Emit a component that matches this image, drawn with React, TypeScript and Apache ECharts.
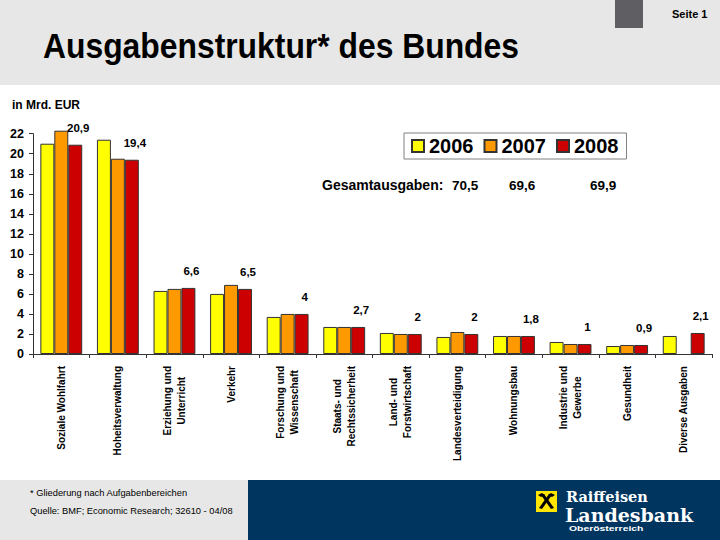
import React, { useEffect, useRef } from "react";
import * as echarts from "echarts";

const categories = [
  "Soziale Wohlfahrt",
  "Hoheitsverwaltung",
  "Erziehung und\nUnterricht",
  "Verkehr",
  "Forschung und\nWissenschaft",
  "Staats- und\nRechtssicherheit",
  "Land- und\nForstwirtschaft",
  "Landesverteidigung",
  "Wohnungsbau",
  "Industrie und\nGewerbe",
  "Gesundheit",
  "Diverse Ausgaben",
];
const years = ["2006", "2007", "2008"];
const values2006 = [21.0, 21.4, 6.3, 6.0, 3.7, 2.7, 2.1, 1.7, 1.8, 1.2, 0.8, 1.8];
const values2007 = [22.3, 19.5, 6.5, 6.9, 4.0, 2.7, 2.0, 2.2, 1.8, 1.0, 0.9, null];
const values2008 = [20.9, 19.4, 6.6, 6.5, 4.0, 2.7, 2.0, 2.0, 1.8, 1.0, 0.9, 2.1];
const totals = [70.5, 69.6, 69.9];
const yMin = 0;
const yMax = 22;
const yInterval = 2;

const FONT = '"Liberation Sans", Arial, sans-serif';
const SERIF = '"DejaVu Serif", "Liberation Serif", serif';
const fmt = (v: number) => String(v).replace(".", ",");

export default function App() {
  const ref = useRef<HTMLDivElement>(null);
  useEffect(() => {
    document.body.style.margin = "0";
    const chart = echarts.init(ref.current!, undefined, { renderer: "svg" });
    const colors = ["#FFFF00", "#FF9900", "#CC0000"];
    const data = [values2006, values2007, values2008];
    const totalX = [452, 509, 590];
    const option: any = {
      animation: false,
      backgroundColor: "#ffffff",
      textStyle: { fontFamily: FONT },
      grid: { left: 33, right: 8, top: 133.7, bottom: 186, containLabel: false },
      legend: {
        data: years,
        left: 404,
        top: 133,
        orient: "horizontal",
        icon: "rect",
        itemWidth: 12,
        itemHeight: 12,
        itemGap: 10,
        padding: [3, 8, 3, 7],
        borderColor: "#808080",
        borderWidth: 1,
        backgroundColor: "#ffffff",
        textStyle: { fontSize: 20, fontWeight: "bold", color: "#000", fontFamily: FONT },
      },
      xAxis: {
        type: "category",
        data: categories,
        axisLine: { lineStyle: { color: "#333", width: 1 } },
        axisTick: { show: true, length: 4, lineStyle: { color: "#333" } },
        axisLabel: {
          rotate: 90,
          margin: 12,
          interval: 0,
          color: "#000",
          fontSize: 10,
          fontWeight: "bold",
          fontFamily: FONT,
          lineHeight: 14,
          formatter: (v: string) =>
            v
              .split("\n")
              .map((l) => `{c|${l}}`)
              .join("\n"),
          rich: {
            c: {
              align: "center",
              fontSize: 10,
              fontWeight: "bold",
              fontFamily: FONT,
              lineHeight: 14,
              color: "#000",
            },
          },
        },
      },
      yAxis: {
        type: "value",
        min: yMin,
        max: yMax,
        interval: yInterval,
        splitLine: { show: false },
        axisLine: { show: true, lineStyle: { color: "#333", width: 1 } },
        axisTick: { show: true, length: 4, lineStyle: { color: "#333" } },
        axisLabel: {
          margin: 9,
          color: "#000",
          fontSize: 12.5,
          fontWeight: "bold",
          fontFamily: FONT,
        },
      },
      series: years.map((y, i) => ({
        name: y,
        type: "bar",
        data: data[i],
        barGap: "0%",
        barCategoryGap: "26%",
        clip: false,
        itemStyle: { color: colors[i], borderColor: "#333", borderWidth: 1 },
        label:
          i === 2
            ? {
                show: true,
                position: "top",
                distance: 11,
                offset: [3, 0],
                color: "#000",
                fontSize: 11.5,
                fontWeight: "bold",
                fontFamily: FONT,
                formatter: (p: any) => fmt(p.value),
              }
            : { show: false },
      })),
      graphic: [
        { type: "rect", shape: { x: 0, y: 0, width: 720, height: 85 }, style: { fill: "#e7e7e7" }, z: -10 },
        { type: "rect", shape: { x: 615, y: 0, width: 28, height: 28 }, style: { fill: "#5f5f63" }, z: -9 },
        {
          type: "text",
          x: 672,
          y: 14,
          style: { text: "Seite 1", font: `bold 11px ${FONT}`, fill: "#000", align: "left", verticalAlign: "middle" },
        },
        {
          type: "text",
          x: 43,
          y: 46,
          scaleX: 0.91,
          style: {
            text: "Ausgabenstruktur* des Bundes",
            font: `bold 35px ${FONT}`,
            fill: "#000",
            align: "left",
            verticalAlign: "middle",
          },
        },
        {
          type: "text",
          x: 12,
          y: 105,
          style: { text: "in Mrd. EUR", font: `bold 12px ${FONT}`, fill: "#000", align: "left", verticalAlign: "middle" },
        },
        {
          type: "text",
          x: 322,
          y: 185,
          style: { text: "Gesamtausgaben:", font: `bold 14px ${FONT}`, fill: "#000", align: "left", verticalAlign: "middle" },
        },
        ...totals.map((t, i) => ({
          type: "text",
          x: totalX[i],
          y: 185,
          style: { text: fmt(t), font: `bold 13.5px ${FONT}`, fill: "#000", align: "left", verticalAlign: "middle" },
        })),
        { type: "rect", shape: { x: 0, y: 480, width: 248, height: 60 }, style: { fill: "#e7e7e7" }, z: -10 },
        { type: "rect", shape: { x: 248, y: 480, width: 472, height: 60 }, style: { fill: "#00355f" }, z: -10 },
        {
          type: "text",
          x: 30,
          y: 493,
          style: {
            text: "* Gliederung nach Aufgabenbereichen",
            font: `9.3px ${FONT}`,
            fill: "#000",
            align: "left",
            verticalAlign: "middle",
          },
        },
        {
          type: "text",
          x: 30,
          y: 511,
          style: {
            text: "Quelle: BMF; Economic Research; 32610 - 04/08",
            font: `9.3px ${FONT}`,
            fill: "#000",
            align: "left",
            verticalAlign: "middle",
          },
        },
        // logo
        { type: "rect", shape: { x: 536, y: 491, width: 21, height: 21 }, style: { fill: "#FFE600" } },
        {
          type: "polygon",
          shape: { points: [[541, 495], [544, 494], [554, 508], [551, 509]] },
          style: { fill: "#000" },
        },
        {
          type: "polygon",
          shape: { points: [[552, 495], [549, 494], [539, 508], [542, 509]] },
          style: { fill: "#000" },
        },
        {
          type: "polygon",
          shape: { points: [[538, 495], [542, 493], [545, 495], [541, 497]] },
          style: { fill: "#000" },
        },
        {
          type: "polygon",
          shape: { points: [[555, 495], [551, 493], [548, 495], [552, 497]] },
          style: { fill: "#000" },
        },
        {
          type: "text",
          x: 566,
          y: 496,
          style: { text: "Raiffeisen", font: `bold 14.5px ${SERIF}`, fill: "#fff", align: "left", verticalAlign: "middle" },
        },
        {
          type: "text",
          x: 565,
          y: 514.5,
          style: { text: "Landesbank", font: `bold 19px ${SERIF}`, fill: "#fff", align: "left", verticalAlign: "middle" },
        },
        {
          type: "text",
          x: 569,
          y: 529,
          scaleX: 1.6,
          style: {
            text: "Oberösterreich",
            font: `bold 6.5px ${FONT}`,
            fill: "#fff",
            align: "left",
            verticalAlign: "middle",
          },
        },
      ],
    };
    chart.setOption(option);
    return () => chart.dispose();
  }, []);
  return (
    <div
      ref={ref}
      style={{ position: "absolute", left: 0, top: 0, width: 720, height: 540 }}
    />
  );
}
